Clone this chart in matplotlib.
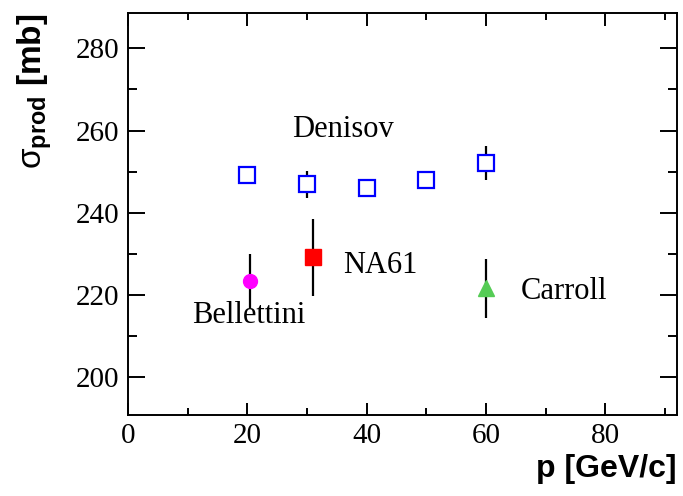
import numpy as np
import matplotlib
matplotlib.use('Agg')
import matplotlib.pyplot as plt
from matplotlib.ticker import MultipleLocator

plt.rcParams['mathtext.fontset'] = 'custom'
plt.rcParams['mathtext.rm'] = 'Liberation Sans'
plt.rcParams['mathtext.bf'] = 'Liberation Sans:bold'

# Denisov
den_p = [20, 30, 40, 50, 60]
den_sig = [249.1, 246.9, 246.1, 248.0, 252.1]
den_err = [0.0, 3.2, 0.0, 0.0, 4.2]

# NA61
na61_p = [31]
na61_sig = [229.2]
na61_err = [9.3]

# Bellettini
bel_p = [20.5]
bel_sig = [223.5]
bel_err = [6.5]

# Carroll
car_p = [60]
car_sig = [221.7]
car_err = [7.2]

fig = plt.figure(figsize=(6.83, 4.96), dpi=100)
ax = fig.add_axes([0.1874, 0.1643, 0.8034, 0.8089])

eb = dict(ecolor='black', elinewidth=1.6, capsize=0, linestyle='none')
ax.errorbar(den_p, den_sig, yerr=den_err, marker='s', ms=11, mfc='white',
            mec='#0000ff', mew=1.6, **eb)
ax.errorbar(bel_p, bel_sig, yerr=bel_err, marker='o', ms=10, mfc='#ff00ff',
            mec='#ff00ff', **eb)
ax.errorbar(na61_p, na61_sig, yerr=na61_err, marker='s', ms=11, mfc='#ff0000',
            mec='#ff0000', **eb)
ax.errorbar(car_p, car_sig, yerr=car_err, marker='^', ms=11, mfc='#55cc55',
            mec='#55cc55', **eb)

ser = 'Liberation Serif'
ax.text(27.5, 260.2, 'Denisov', family=ser, fontsize=22, va='center', ha='left')
ax.text(36.0, 227.2, 'NA61', family=ser, fontsize=22, va='center', ha='left')
ax.text(10.7, 215.0, 'Bellettini', family=ser, fontsize=22, va='center', ha='left')
ax.text(65.8, 220.8, 'Carroll', family=ser, fontsize=22, va='center', ha='left')

ax.set_xlim(0, 92)
ax.set_ylim(191, 288.5)
ax.xaxis.set_major_locator(MultipleLocator(20))
ax.xaxis.set_minor_locator(MultipleLocator(10))
ax.yaxis.set_major_locator(MultipleLocator(20))
ax.yaxis.set_minor_locator(MultipleLocator(10))

for s in ax.spines.values():
    s.set_linewidth(1.4)
ax.tick_params(axis='both', which='both', direction='in', top=True, right=True,
               width=1.4, labelsize=21, pad=6)
ax.tick_params(axis='x', which='major', length=9)
ax.tick_params(axis='x', which='minor', length=4.8)
ax.tick_params(axis='y', which='major', length=12)
ax.tick_params(axis='y', which='minor', length=6.5)
for lab in ax.get_xticklabels() + ax.get_yticklabels():
    lab.set_family(ser)

ax.set_xlabel('p [GeV/c]', family='Liberation Sans', fontweight='bold',
              fontsize=23, loc='right')
ax.set_ylabel(r'$\mathrm{σ}_{\mathbf{prod}}$ [mb]', family='Liberation Sans',
              fontweight='bold', fontsize=24, loc='top', labelpad=16)

fig.savefig('out.png', dpi=100)
